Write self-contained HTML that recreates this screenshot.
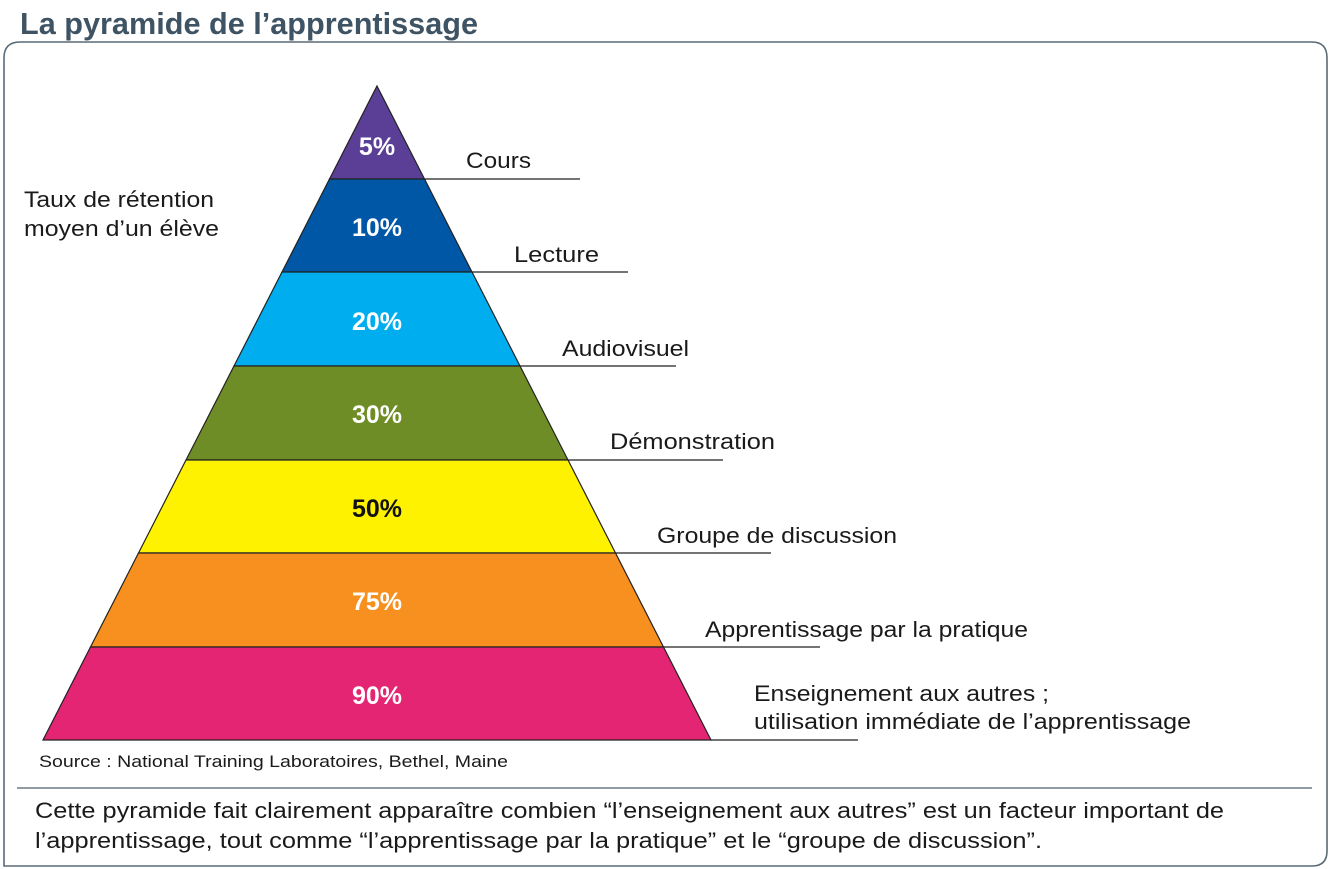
<!DOCTYPE html>
<html><head><meta charset="utf-8"><style>
body{margin:0;background:#fff;width:1332px;height:869px;overflow:hidden}
svg{display:block}
text{font-family:"Liberation Sans",sans-serif}
</style></head><body>
<svg width="1332" height="869" viewBox="0 0 1332 869" xmlns="http://www.w3.org/2000/svg">
<text x="20" y="34" font-size="31" font-weight="bold" fill="#3e5364" textLength="458" lengthAdjust="spacingAndGlyphs">La pyramide de l’apprentissage</text>
<path d="M4,866 L4,58 Q4,42 20,42 L1312,42 Q1327,42 1327,58 L1327,851 Q1327,866 1312,866 Z" fill="none" stroke="#5a6b78" stroke-width="1.6"/>
<line x1="17" y1="788" x2="1312" y2="788" stroke="#6b7a86" stroke-width="1.6"/>
<g stroke="#222" stroke-width="1.2">
<polygon points="377,86 424.5,179 329.5,179" fill="#5b3f97"/>
<polygon points="329.5,179 424.5,179 472,272 282,272" fill="#0057a5"/>
<polygon points="282,272 472,272 520,366 234,366" fill="#00aeef"/>
<polygon points="234,366 520,366 568,460 186,460" fill="#6f8d26"/>
<polygon points="186,460 568,460 615.5,553 138.5,553" fill="#fff200"/>
<polygon points="138.5,553 615.5,553 663.5,647 90.5,647" fill="#f7901e"/>
<polygon points="90.5,647 663.5,647 711,740 43,740" fill="#e32573"/>
<line x1="424.5" y1="179" x2="580" y2="179"/>
<line x1="472" y1="272" x2="628" y2="272"/>
<line x1="520" y1="366" x2="676" y2="366"/>
<line x1="568" y1="460" x2="723" y2="460"/>
<line x1="615.5" y1="553" x2="771" y2="553"/>
<line x1="663.5" y1="647" x2="820" y2="647"/>
<line x1="711" y1="740" x2="858" y2="740"/>
</g>
<g font-size="25" font-weight="bold" fill="#fff" text-anchor="middle">
<text x="377" y="155">5%</text>
<text x="377" y="236">10%</text>
<text x="377" y="330">20%</text>
<text x="377" y="423">30%</text>
<text x="377" y="517" fill="#111">50%</text>
<text x="377" y="610">75%</text>
<text x="377" y="704">90%</text>
</g>
<g font-size="22" fill="#1a1a1a">
<text x="466" y="168" textLength="65" lengthAdjust="spacingAndGlyphs">Cours</text>
<text x="514" y="262" textLength="85" lengthAdjust="spacingAndGlyphs">Lecture</text>
<text x="562" y="356" textLength="127" lengthAdjust="spacingAndGlyphs">Audiovisuel</text>
<text x="610" y="449" textLength="165" lengthAdjust="spacingAndGlyphs">Démonstration</text>
<text x="657" y="543" textLength="240" lengthAdjust="spacingAndGlyphs">Groupe de discussion</text>
<text x="705" y="637" textLength="323" lengthAdjust="spacingAndGlyphs">Apprentissage par la pratique</text>
<text x="754" y="701" textLength="295" lengthAdjust="spacingAndGlyphs">Enseignement aux autres ;</text>
<text x="754" y="729" textLength="437" lengthAdjust="spacingAndGlyphs">utilisation immédiate de l’apprentissage</text>
<text x="24" y="207" textLength="190" lengthAdjust="spacingAndGlyphs">Taux de rétention</text>
<text x="24" y="236" textLength="195" lengthAdjust="spacingAndGlyphs">moyen d’un élève</text>
<text x="35" y="818" textLength="1189" lengthAdjust="spacingAndGlyphs">Cette pyramide fait clairement apparaître combien “l’enseignement aux autres” est un facteur important de</text>
<text x="35" y="848" textLength="1007" lengthAdjust="spacingAndGlyphs">l’apprentissage, tout comme “l’apprentissage par la pratique” et le “groupe de discussion”.</text>
</g>
<text x="39" y="767" font-size="17" fill="#1a1a1a" textLength="469" lengthAdjust="spacingAndGlyphs">Source : National Training Laboratoires, Bethel, Maine</text>
</svg>
</body></html>
